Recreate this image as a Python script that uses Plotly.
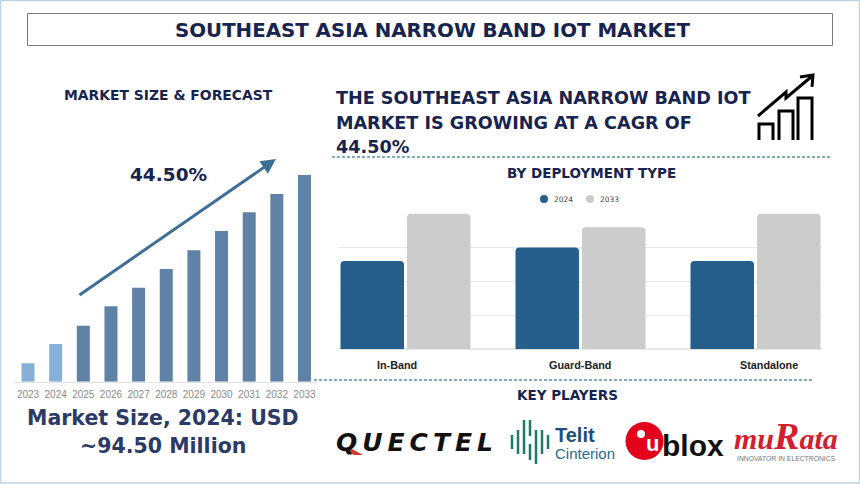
"""Southeast Asia Narrow Band IoT market infographic."""
import plotly.graph_objects as go

W, H = 860, 484
NAVY = "#16244f"
INK = "#2b3a67"
BLUE = "#265e8c"
GREY = "#cccccc"
FONT = "DejaVu Sans"

# market size & forecast (USD million)
years = ["2023", "2024", "2025", "2026", "2027", "2028", "2029", "2030", "2031", "2032", "2033"]
market_size = [46, 94.5, 140, 189, 235, 282, 329, 377, 424, 470, 518]
year_colors = ["#86b0d8", "#86b0d8"] + ["#5f82a6"] * 9

# deployment type
deployment = ["In-Band", "Guard-Band", "Standalone"]
share_2024 = [2.6, 3.0, 2.6]
share_2033 = [4.0, 3.6, 4.0]
deployment_label_x = [397, 580, 769]

heading_lines = [
    "THE SOUTHEAST ASIA NARROW BAND IOT",
    "MARKET IS GROWING AT A CAGR OF",
    "44.50%",
]
market_lines = ["Market Size, 2024: USD", "~94.50 Million"]

# telit logo stripes: x, half height, y centre
telit_stripes = [(512, 7, 442), (518, 12, 442), (524, 17, 437), (530, 8, 428), (530, 8, 452),
                 (536, 17, 447), (542, 12, 442), (548, 7, 442)]


def px(x):
    return x / W


def py(y):
    return 1 - y / H


def label(x, y, text, size, color=NAVY, anchor="center", family=FONT):
    fig.add_annotation(
        x=px(x), y=py(y), xref="paper", yref="paper", text=text, showarrow=False,
        xanchor=anchor, yanchor="middle", font=dict(size=size, color=color, family=family),
    )


def box(x0, y0, x1, y1, **kw):
    fig.add_shape(type="rect", xref="paper", yref="paper",
                  x0=px(x0), y0=py(y0), x1=px(x1), y1=py(y1), **kw)


def dot(x, y, r, color):
    fig.add_shape(type="circle", xref="paper", yref="paper", x0=px(x - r), y0=py(y + r),
                  x1=px(x + r), y1=py(y - r), fillcolor=color, line_width=0)


def seg(x0, y0, x1, y1, color, width, dash="solid"):
    fig.add_shape(type="line", xref="paper", yref="paper",
                  x0=px(x0), y0=py(y0), x1=px(x1), y1=py(y1),
                  line=dict(color=color, width=width, dash=dash))


def poly(points, color, width, fill=None):
    path = "M " + " L ".join(f"{px(x):.5f},{py(y):.5f}" for x, y in points)
    if fill:
        path += " Z"
    fig.add_shape(type="path", xref="paper", yref="paper", path=path,
                  line=dict(color=color, width=width), fillcolor=fill)


fig = go.Figure()

fig.add_trace(go.Bar(x=years, y=market_size, width=0.47, marker_color=year_colors, marker_line_width=0,
                     marker_cornerradius=0, showlegend=False, xaxis="x", yaxis="y"))
fig.add_trace(go.Bar(x=deployment, y=share_2024, name="2024", marker_color=BLUE, marker_line_width=0,
                     showlegend=False, xaxis="x2", yaxis="y2"))
fig.add_trace(go.Bar(x=deployment, y=share_2033, name="2033", marker_color=GREY, marker_line_width=0,
                     showlegend=False, xaxis="x2", yaxis="y2"))

fig.update_layout(
    width=W, height=H, margin=dict(l=0, r=0, t=0, b=0),
    paper_bgcolor="white", plot_bgcolor="white",
    font=dict(family=FONT),
    barmode="group", bargap=0.24, bargroupgap=0.045, barcornerradius=4,
    xaxis=dict(domain=[px(14.2), px(318.3)], type="category", showgrid=False, zeroline=False,
               showline=True, linecolor="#e2e2e2", ticks="", ticklen=0, ticklabelstandoff=3,
               tickfont=dict(size=10, color="#8a8a8a", family="Liberation Sans"), anchor="y"),
    yaxis=dict(domain=[py(381.7), py(174.7)], range=[0, 518], visible=False, anchor="x"),
    xaxis2=dict(domain=[px(339), px(822)], type="category", range=[-0.38, 2.38], showgrid=False,
                zeroline=False, showline=False, showticklabels=False, ticks="", anchor="y2"),
    yaxis2=dict(domain=[py(349.3), py(213.3)], range=[0, 4.01], dtick=1, showgrid=True,
                gridcolor="#e8e8e8", zeroline=True, zerolinecolor="#e8e8e8", showticklabels=False,
                ticks="", anchor="x2"),
)

# page frame and title box
box(0.5, 0.5, 859.5, 483, line=dict(color="#b9d5e6", width=1.5), layer="below")
box(27.5, 13.5, 832.5, 45.5, line=dict(color="#777777", width=1))
label(432, 31, "<b>SOUTHEAST ASIA NARROW BAND IOT MARKET</b>", 19.8)

# left panel
label(168.5, 95, "<b>MARKET SIZE &amp; FORECAST</b>", 13.9)
label(168.5, 175, "<b>44.50%</b>", 18.5)
fig.add_annotation(
    x=px(276), y=py(159), ax=78 - 276, ay=296 - 159, xref="paper", yref="paper", axref="pixel", ayref="pixel",
    text="", showarrow=True, arrowhead=2, arrowsize=1, arrowwidth=3, arrowcolor="#3f6f96",
)
for i, line in enumerate(market_lines):
    label(163, 418 + i * 28, f"<b>{line}</b>", 20.5, INK)

# right panel text
for i, line in enumerate(heading_lines):
    label(334, 98 + i * 24.5, f"<b>{line}</b>", 17.6, anchor="left")
seg(332, 157, 830, 157, "#5a8fa8", 1.5, "3px,2px")
label(591, 173, "<b>BY DEPLOYMENT TYPE</b>", 13.5)

# legend row
dot(544, 199, 4, BLUE)
label(552, 199, "2024", 7.5, "#444444", anchor="left")
dot(590, 199, 4, GREY)
label(598, 199, "2033", 7.5, "#444444", anchor="left")

for name, x in zip(deployment, deployment_label_x):
    label(x, 365, f"<b>{name}</b>", 10.8, "#222222", family="Liberation Sans")
seg(314, 380, 812, 380, "#5a8fa8", 1.5, "3px,2px")
label(567, 395, "<b>KEY PLAYERS</b>", 13.5)

# growth icon
for x0, x1, top in [(759, 773, 124), (779, 793, 111), (798, 812, 98)]:
    poly([(x0, 140), (x0, top), (x1, top), (x1, 140)], "black", 3)
poly([(758, 116), (786, 92), (786, 98), (811, 77)], "black", 3)
poly([(800, 77), (813, 75), (812, 87)], "black", 3)

# key player logos, drawn as text and simple shapes
label(414, 442, "<b><i>" + "\u2009".join("QUECTEL") + "</i></b>", 25, "#111111")
poly([(343, 449), (352, 449), (363, 455), (354, 455)], "#d8362f", 0, fill="#d8362f")

for x, half, yc in telit_stripes:
    seg(x, yc - half, x, yc + half, "#1f7a68", 2.5)
label(553, 435, "<b>Telit</b>", 20, "#1d4f7c", anchor="left", family="Liberation Sans")
label(553, 453, "Cinterion", 15, "#2a6a96", anchor="left", family="Liberation Sans")

dot(644.5, 441, 19, "#e2001a")
label(652, 443, "<b>u</b>", 22, "white", family="Liberation Sans")
dot(641, 434, 4, "white")
label(660, 445, "<b>blox</b>", 30, "#111111", anchor="left", family="Liberation Sans")

label(786, 436, '<b><i>mu<span style="font-size:38px">R</span>ata</i></b>', 30, "#d1202f",
      family="Liberation Serif")
label(786, 458, "INNOVATOR IN ELECTRONICS", 6.8, "#777777", family="Liberation Sans")

# drop the browser's default page margin so the figure sits at the window origin
fig.write_html("out.html", config={"displayModeBar": False},
               post_script="document.body.style.margin='0';document.body.style.overflow='hidden';")
